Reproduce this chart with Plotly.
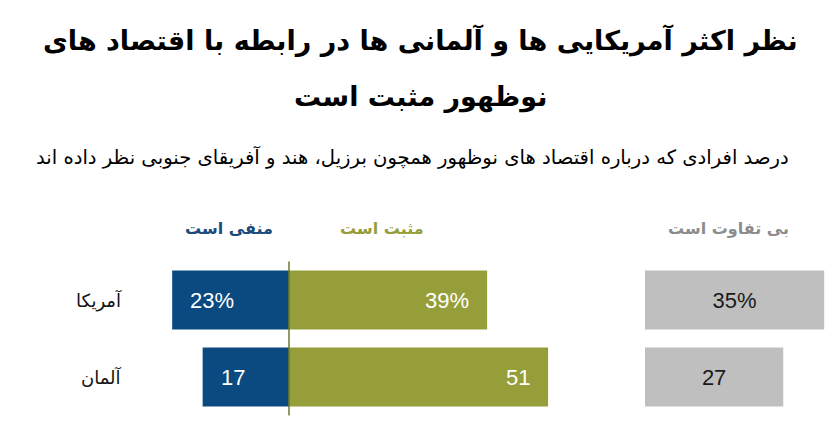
import plotly.graph_objects as go

countries = ["آمریکا", "آلمان"]
negative = [23, 17]
positive = [39, 51]
neutral = [35, 27]
col_labels = ["منفی است", "مثبت است", "بی تفاوت است"]
title_lines = ["نظر اکثر آمریکایی ها و آلمانی ها در رابطه با اقتصاد های", "نوظهور مثبت است"]
subtitle = "درصد افرادی که درباره اقتصاد های نوظهور همچون برزیل، هند و آفریقای جنوبی نظر داده اند"

BLUE = "#0b4a80"
GREEN = "#969e3a"
GRAY = "#bfbfbf"
OFF = 8  # page body margin
W, H = 840 - OFF, 422 - OFF

def px(x):
    return (x - OFF) / W

def py(y):
    return 1 - (y - OFF) / H

def fmt(v, i):
    return f"{v}%" if i == 0 else f"{v}"

fig = go.Figure()
fig.add_trace(go.Bar(y=countries, x=[-v for v in negative], orientation="h",
                     marker=dict(color=BLUE, line=dict(width=0)), width=0.766,
                     xaxis="x", yaxis="y", hoverinfo="skip"))
fig.add_trace(go.Bar(y=countries, x=positive, orientation="h",
                     marker=dict(color=GREEN, line=dict(width=0)), width=0.766,
                     xaxis="x", yaxis="y", hoverinfo="skip"))
fig.add_trace(go.Bar(y=countries, x=neutral, orientation="h",
                     marker=dict(color=GRAY, line=dict(width=0)), width=0.766,
                     xaxis="x2", yaxis="y", hoverinfo="skip",
                     text=[fmt(v, i) for i, v in enumerate(neutral)],
                     textposition="inside", insidetextanchor="middle",
                     textfont=dict(family="Liberation Sans, Arial", size=22, color="#1a1a1a")))

ann = []
valfont = dict(family="Liberation Sans, Arial", size=22, color="white")
for i, c in enumerate(countries):
    ann.append(dict(x=-negative[i], y=c, xref="x", yref="y", text=fmt(negative[i], i),
                    xanchor="left", xshift=16, showarrow=False, font=valfont))
    ann.append(dict(x=positive[i], y=c, xref="x", yref="y", text=fmt(positive[i], i),
                    xanchor="right", xshift=-16, showarrow=False, font=valfont))
    ann.append(dict(x=px(124), y=c, xref="paper", yref="y", text=c, xanchor="right",
                    showarrow=False, font=dict(family="DejaVu Sans", size=18, color="#111")))

# title
for ty, t in zip([40, 97], title_lines):
    ann.append(dict(x=px(420), y=py(ty), xref="paper", yref="paper", text=t,
                    showarrow=False, xanchor="center", yanchor="middle",
                    font=dict(family="DejaVu Sans", size=27, color="black", weight="bold")))
ann.append(dict(x=px(791), y=py(157), xref="paper", yref="paper", text=subtitle,
                showarrow=False, xanchor="right", yanchor="middle",
                font=dict(family="DejaVu Sans", size=19.6, color="black")))
# column headers
hdr_colors = ["#1c4a7c", GREEN, "#8c8c8c"]
hdr_x = [229, 382, 791]
hdr_anchor = ["center", "center", "right"]
for t, col, hx, xa in zip(col_labels, hdr_colors, hdr_x, hdr_anchor):
    ann.append(dict(x=px(hx), y=py(228), xref="paper", yref="paper", text=t,
                    showarrow=False, xanchor=xa, yanchor="middle",
                    font=dict(family="DejaVu Sans", size=16, color=col, weight="bold")))

px_per = 5.08
gray_px_per = 5.12
center = 289
x1_dom = [px(150), px(600)]
x1_rng = [(150 - center) / px_per, (600 - center) / px_per]
x2_dom = [px(645), px(835)]
x2_rng = [0, 190 / gray_px_per]

fig.update_layout(
    width=W, height=H, margin=dict(l=0, r=0, t=0, b=0),
    paper_bgcolor="white", plot_bgcolor="white",
    barmode="overlay", showlegend=False,
    xaxis=dict(domain=x1_dom, range=x1_rng, visible=False, fixedrange=True),
    xaxis2=dict(domain=x2_dom, range=x2_rng, visible=False, anchor="y", fixedrange=True),
    yaxis=dict(domain=[py(415.5), py(261.5)], range=[1.5, -0.5], visible=False,
               fixedrange=True),
    annotations=ann,
    shapes=[dict(type="line", xref="x", yref="y domain", x0=0, x1=0, y0=0, y1=1,
                 line=dict(color="#6e7a2a", width=1.5))],
)

fig.write_html("out.html")
